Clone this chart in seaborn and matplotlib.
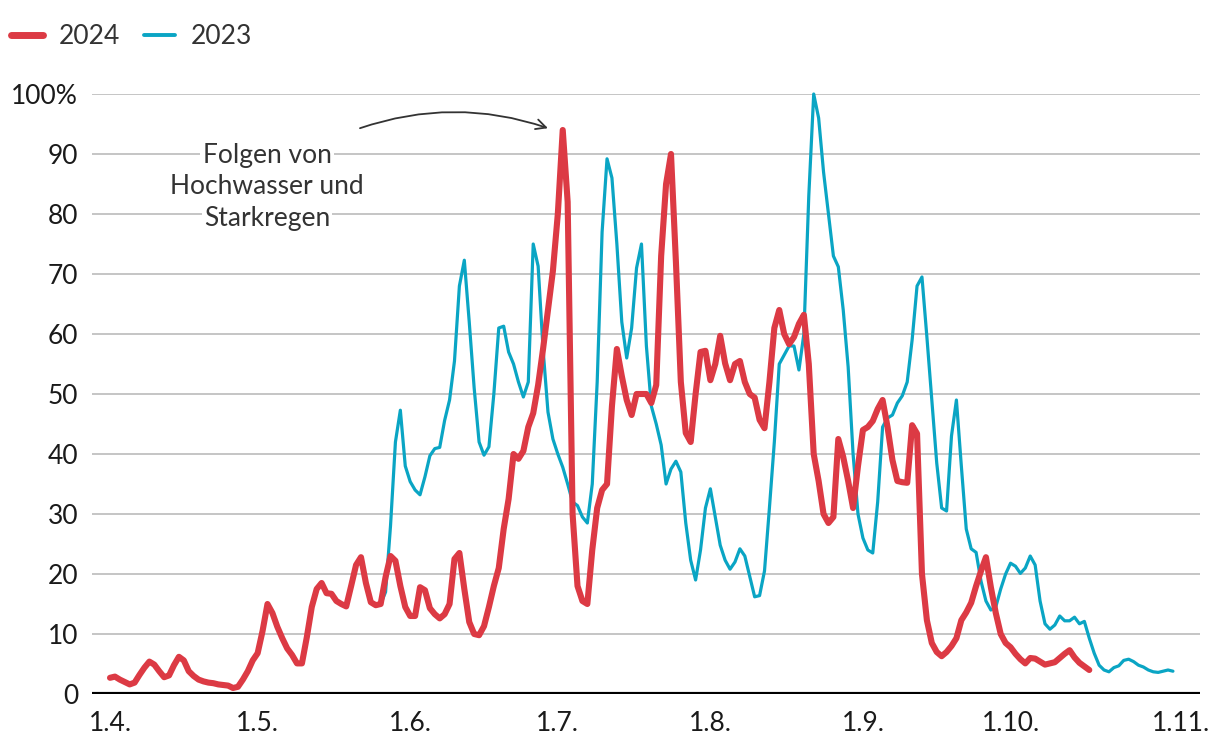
import pandas as pd
import seaborn as sns
import matplotlib.pyplot as plt
import matplotlib.dates as mdates
import matplotlib.transforms as mtransforms
from matplotlib.lines import Line2D

# daily values (percent of season maximum), 2024 from 1.4., 2023 from 26.5.
START_2024 = "2024-04-01"
START_2023 = "2024-05-26"  # 2023 drawn on the same calendar axis

VALUES_2024 = [
    2.7, 2.9, 2.4, 2.0, 1.6, 1.9, 3.2, 4.4, 5.4, 4.9,
    3.8, 2.8, 3.1, 4.8, 6.2, 5.6, 3.8, 3.0, 2.4, 2.1,
    1.9, 1.8, 1.6, 1.5, 1.4, 1.0, 1.2, 2.4, 3.8, 5.6,
    6.8, 10.5, 15.0, 13.5, 11.2, 9.3, 7.6, 6.5, 5.1, 5.1,
    9.5, 14.5, 17.5, 18.5, 16.8, 16.7, 15.5, 15.0, 14.6, 18.0,
    21.5, 22.8, 18.5, 15.3, 14.8, 15.0, 19.5, 23.0, 22.2, 18.0,
    14.5, 13.0, 13.0, 17.8, 17.3, 14.3, 13.3, 12.6, 13.3, 15.0,
    22.5, 23.5, 17.5, 12.0, 10.0, 9.8, 11.3, 14.5, 18.0, 21.0,
    27.5, 32.5, 40.0, 39.2, 40.5, 44.5, 46.8, 51.5, 57.5, 64.0,
    70.5, 80.0, 94.0, 82.0, 30.0, 18.0, 15.5, 15.0, 24.0, 31.0,
    34.0, 35.0, 48.0, 57.5, 53.0, 49.0, 46.5, 50.0, 50.0, 50.0,
    48.5, 51.5, 73.0, 85.0, 90.0, 72.0, 52.0, 43.5, 42.0, 50.0,
    57.0, 57.2, 52.3, 55.0, 59.7, 55.1, 52.3, 55.0, 55.5, 52.0,
    50.0, 49.4, 45.7, 44.3, 52.0, 61.0, 64.0, 60.0, 58.3, 59.5,
    61.7, 63.2, 55.0, 40.0, 35.5, 30.0, 28.5, 29.5, 42.5, 39.5,
    35.5, 31.0, 38.0, 44.0, 44.5, 45.5, 47.5, 49.0, 44.5, 39.0,
    35.5, 35.3, 35.2, 44.8, 43.4, 20.0, 12.3, 8.5, 7.0, 6.3,
    7.0, 8.0, 9.3, 12.3, 13.6, 15.2, 18.0, 20.5, 22.8, 17.8,
    13.5, 10.0, 8.5, 7.8, 6.7, 5.8, 5.1, 6.0, 5.9, 5.4,
    4.9, 5.1, 5.3, 6.0, 6.7, 7.3, 6.1, 5.2, 4.6, 4.0,
]

VALUES_2023 = [
    15.0, 17.0, 28.0, 42.0, 47.3,
    38.0, 35.4, 34.0, 33.2, 36.2, 39.7, 40.9, 41.1, 45.6, 49.0,
    55.5, 68.0, 72.3, 62.0, 51.0, 42.0, 39.8, 41.2, 50.0, 61.0,
    61.3, 57.0, 55.0, 52.0, 49.5, 52.0, 75.0, 71.3, 57.5, 47.0,
    42.5, 40.0, 37.8, 35.0, 32.0, 31.4, 29.5, 28.5, 35.0, 52.0,
    77.0, 89.2, 86.0, 75.0, 62.0, 56.0, 61.0, 71.0, 75.0, 58.0,
    48.0, 45.0, 41.5, 35.0, 37.5, 38.8, 37.0, 28.5, 22.3, 19.0,
    24.0, 31.0, 34.2, 29.5, 24.8, 22.3, 20.8, 22.0, 24.2, 23.0,
    19.6, 16.2, 16.4, 20.5, 31.0, 42.0, 55.0, 56.5, 58.0, 58.0,
    54.0, 60.0, 83.0, 100.0, 96.0, 87.0, 80.0, 73.0, 71.2, 64.0,
    54.5, 40.0, 30.0, 26.0, 24.0, 23.5, 32.0, 44.5, 46.0, 46.5,
    48.5, 49.7, 52.0, 59.0, 68.0, 69.5, 59.5, 49.0, 38.5, 31.0,
    30.5, 43.0, 49.0, 38.0, 27.5, 24.2, 23.6, 18.8, 15.5, 14.0,
    14.5, 17.5, 20.0, 21.8, 21.3, 20.1, 21.0, 23.0, 21.5, 15.5,
    11.7, 10.8, 11.5, 13.0, 12.2, 12.2, 12.8, 11.7, 12.1, 9.3,
    6.8, 4.8, 4.0, 3.7, 4.4, 4.7, 5.6, 5.8, 5.4, 4.8,
    4.5, 4.0, 3.7, 3.6, 3.8, 4.0, 3.8,
]

MONTH_TICKS = ["2024-04-01", "2024-05-01", "2024-06-01", "2024-07-01",
               "2024-08-01", "2024-09-01", "2024-10-01", "2024-11-01"]
MONTH_LABELS = ["1.4.", "1.5.", "1.6.", "1.7.", "1.8.", "1.9.", "1.10.", "1.11."]
Y_TICKS = [0, 10, 20, 30, 40, 50, 60, 70, 80, 90, 100]
Y_LABELS = ["0", "10", "20", "30", "40", "50", "60", "70", "80", "90", "100%"]
ANNOTATION_LINES = ["Folgen von", "Hochwasser und", "Starkregen"]

RED = "#dc3a44"
TEAL = "#0aa5c4"
GRID = "#b5b5b5"
TEXT = "#333333"

df = pd.concat([
    pd.DataFrame({"datum": pd.date_range(START_2024, periods=len(VALUES_2024)),
                  "wert": VALUES_2024, "jahr": "2024"}),
    pd.DataFrame({"datum": pd.date_range(START_2023, periods=len(VALUES_2023)),
                  "wert": VALUES_2023, "jahr": "2023"}),
], ignore_index=True)

sns.set_theme(style="white")
plt.rcParams["font.family"] = ["Lato", "DejaVu Sans"]

fig = plt.figure(figsize=(12.2, 7.54), dpi=100)
ax = fig.add_axes([92 / 1220, 1 - 694 / 754, (1200 - 92) / 1220, 600 / 754])

line_kw = dict(estimator=None, ax=ax, clip_on=False,
               solid_joinstyle="round", solid_capstyle="round", zorder=3)
sns.lineplot(data=df[df["jahr"] == "2023"], x="datum", y="wert",
             color=TEAL, linewidth=2.3, **line_kw)
sns.lineplot(data=df[df["jahr"] == "2024"], x="datum", y="wert",
             color=RED, linewidth=4.4, **line_kw)

start = pd.Timestamp(START_2024)
ax.set_xlim(start - pd.Timedelta(days=3.66), start + pd.Timedelta(days=221.5))
ax.set_ylim(0, 100)

ax.set_yticks(Y_TICKS)
ax.set_yticklabels(Y_LABELS)
ax.set_xticks(pd.to_datetime(MONTH_TICKS))
ax.set_xticklabels(MONTH_LABELS)
ax.set_xlabel("")
ax.set_ylabel("")

ax.yaxis.grid(True, color=GRID, linewidth=1.1)
ax.xaxis.grid(False)
ax.set_axisbelow(True)
for s in ax.spines.values():
    s.set_visible(False)
ax.axhline(0, color="black", linewidth=3, zorder=2)

ax.tick_params(axis="both", length=0, labelsize=19, labelcolor="#1a1a1a")
ax.tick_params(axis="x", pad=12)
ax.tick_params(axis="y", pad=10)

# last month label sits a bit further right, as in the original
last = ax.get_xticklabels()[-1]
last.set_transform(last.get_transform()
                   + mtransforms.ScaledTranslation(18 / 100, 0, fig.dpi_scale_trans))

# annotation
text_x = start + pd.Timedelta(days=31.9)
for line, yv in zip(ANNOTATION_LINES, [89.8, 84.5, 79.2]):
    ax.text(text_x, yv, line, ha="center", va="center", fontsize=19, color=TEXT,
            zorder=4, bbox=dict(facecolor="white", edgecolor="none", pad=1.5))

arrow_from = (mdates.date2num(start + pd.Timedelta(days=50.8)), 94.3)
arrow_to = (mdates.date2num(start + pd.Timedelta(days=89.0)), 94.3)
ax.annotate("", xy=arrow_to, xytext=arrow_from, annotation_clip=False,
            arrowprops=dict(arrowstyle="->", connectionstyle="arc3,rad=-0.17",
                            color=TEXT, lw=1.3, mutation_scale=18,
                            shrinkA=0, shrinkB=0))

handles = [
    Line2D([], [], color=RED, linewidth=5, solid_capstyle="round"),
    Line2D([], [], color=TEAL, linewidth=2.8, solid_capstyle="round"),
]
fig.legend(handles, ["2024", "2023"], loc="upper left",
           bbox_to_anchor=(11 / 1220, 1 - 24 / 754), ncol=2, frameon=False,
           fontsize=19, labelcolor=TEXT, handlelength=1.2, handletextpad=0.6,
           columnspacing=0.9, borderpad=0, borderaxespad=0)

fig.savefig("out.png", dpi=100)
